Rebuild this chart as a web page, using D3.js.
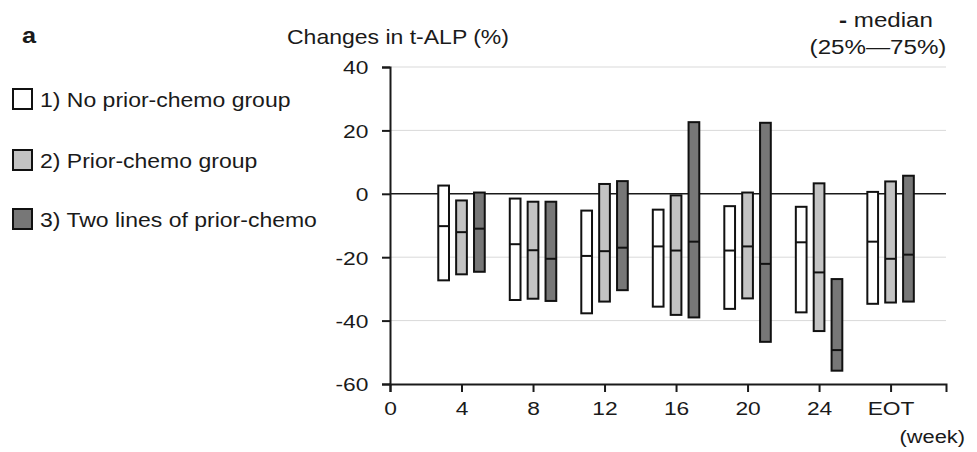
<!DOCTYPE html>
<html>
<head>
<meta charset="utf-8">
<script src="https://cdn.jsdelivr.net/npm/d3@7"></script>
<style>
  body { margin: 0; background: #fff; }
  text { font-family: "Liberation Sans", Arial, sans-serif; fill: #1a1a1a; }
</style>
</head>
<body>
<script>
// weeks on the x axis (EOT drawn at week 28)
var weeks = [4, 8, 12, 16, 20, 24, 28];
var tickLabels = ['0', '4', '8', '12', '16', '20', '24', 'EOT'];
var tickWeeks = [0, 4, 8, 12, 16, 20, 24, 28];
var yTicks = [40, 20, 0, -20, -40, -60];

var groups = ['1) No prior-chemo group', '2) Prior-chemo group', '3) Two lines of prior-chemo'];
var colors = ['#ffffff', '#c3c3c3', '#777777'];

// [25%, median, 75%] per week
var noPrior = [
  [-27.3, -10.2, 2.6], [-33.5, -15.9, -1.5], [-37.7, -19.6, -5.3], [-35.6, -16.6, -5.0],
  [-36.3, -17.9, -3.9], [-37.4, -15.3, -4.1], [-34.7, -15.1, 0.6]
];
var prior = [
  [-25.4, -12.1, -2.1], [-33.1, -17.8, -2.5], [-34.0, -18.1, 3.1], [-38.2, -17.9, -0.5],
  [-33.0, -16.6, 0.4], [-43.3, -24.8, 3.3], [-34.3, -20.5, 3.9]
];
var twoLines = [
  [-24.6, -11.0, 0.4], [-33.8, -20.5, -2.5], [-30.4, -17.0, 4.0], [-39.0, -15.1, 22.6],
  [-46.7, -22.1, 22.4], [-55.8, -49.3, -26.9], [-34.0, -19.2, 5.7]
];
var series = [noPrior, prior, twoLines];

var width = 977, height = 452;
var svg = d3.select('body').append('svg')
  .attr('width', width)
  .attr('height', height);

var x = d3.scaleLinear().domain([0, 31.1]).range([390, 946]);
var y = d3.scaleLinear().domain([-60, 40]).range([384, 67]);

// light grid lines
svg.selectAll('line.grid')
  .data(yTicks.filter(function(d) { return d !== 0 && d !== -60; }))
  .enter().append('line')
  .attr('class', 'grid')
  .attr('x1', x(0)).attr('x2', x(31.1))
  .attr('y1', function(d) { return y(d); })
  .attr('y2', function(d) { return y(d); })
  .attr('stroke', '#d9d9d9')
  .attr('stroke-width', 1);

// zero line
svg.append('line')
  .attr('x1', x(0)).attr('x2', x(31.1))
  .attr('y1', y(0)).attr('y2', y(0))
  .attr('stroke', '#1a1a1a')
  .attr('stroke-width', 1.5);

// axes
var yAxis = svg.append('g')
  .attr('transform', 'translate(' + x(0) + ',0)')
  .call(d3.axisLeft(y).tickValues(yTicks).tickSize(8).tickPadding(10)
    .tickFormat(function(d) { return String(d); }));
var xAxis = svg.append('g')
  .attr('transform', 'translate(0,' + y(-60) + ')')
  .call(d3.axisBottom(x).tickValues(tickWeeks).tickSize(8).tickPadding(9)
    .tickFormat(function(d, i) { return tickLabels[i]; }));

[yAxis, xAxis].forEach(function(a) {
  a.select('.domain').attr('stroke', '#1a1a1a').attr('stroke-width', 2);
  a.selectAll('.tick line').attr('stroke', '#1a1a1a').attr('stroke-width', 2);
  a.selectAll('.tick text')
    .attr('fill', '#1a1a1a')
    .style('font-size', '19px')
    .style('font-family', '"Liberation Sans", Arial, sans-serif');
});
yAxis.selectAll('.tick text').attr('transform', 'scale(1.2,1)').attr('dy', '0.36em');
xAxis.selectAll('.tick text').attr('transform', 'scale(1.2,1)').attr('dy', '0.75em');

// boxes (25%-75%) with median
var barW = x(0.6) - x(0);
series.forEach(function(s, gi) {
  var g = svg.append('g');
  var bars = g.selectAll('g')
    .data(s)
    .enter().append('g');
  bars.append('rect')
    .attr('x', function(d, i) { return x(weeks[i] + gi - 1) - barW / 2; })
    .attr('y', function(d) { return y(d[2]); })
    .attr('width', barW)
    .attr('height', function(d) { return y(d[0]) - y(d[2]); })
    .attr('fill', colors[gi])
    .attr('stroke', '#111')
    .attr('stroke-width', 2);
  bars.append('line')
    .attr('x1', function(d, i) { return x(weeks[i] + gi - 1) - barW / 2; })
    .attr('x2', function(d, i) { return x(weeks[i] + gi - 1) + barW / 2; })
    .attr('y1', function(d) { return y(d[1]); })
    .attr('y2', function(d) { return y(d[1]); })
    .attr('stroke', '#111')
    .attr('stroke-width', 2);
});

function label(tx, ty, str, size, anchor, weight) {
  return svg.append('text')
    .attr('transform', 'translate(' + tx + ',' + ty + ') scale(1.15,1)')
    .attr('text-anchor', anchor || 'start')
    .style('font-size', size + 'px')
    .style('font-weight', weight || 'normal')
    .text(str);
}

label(22, 43, 'a', 22, 'start', 'bold');
label(287, 44, 'Changes in t-ALP  (%)', 20);
var med = label(886, 27, '', 21, 'middle');
med.append('tspan').style('font-weight', 'bold').text('-');
med.append('tspan').text(' median');
label(878, 54, '(25%\u201475%)', 21, 'middle');
label(965, 443, '(week)', 19, 'end');

// legend
var legY = [99, 160, 219];
var leg = svg.selectAll('g.leg')
  .data(groups)
  .enter().append('g')
  .attr('class', 'leg')
  .attr('transform', function(d, i) { return 'translate(12,' + legY[i] + ')'; });
leg.append('rect')
  .attr('x', 1).attr('y', -10)
  .attr('width', 19).attr('height', 20)
  .attr('fill', function(d, i) { return colors[i]; })
  .attr('stroke', '#111')
  .attr('stroke-width', 2);
leg.append('text')
  .attr('transform', 'translate(28,8) scale(1.15,1)')
  .style('font-size', '20px')
  .text(function(d) { return d; });
</script>
</body>
</html>
